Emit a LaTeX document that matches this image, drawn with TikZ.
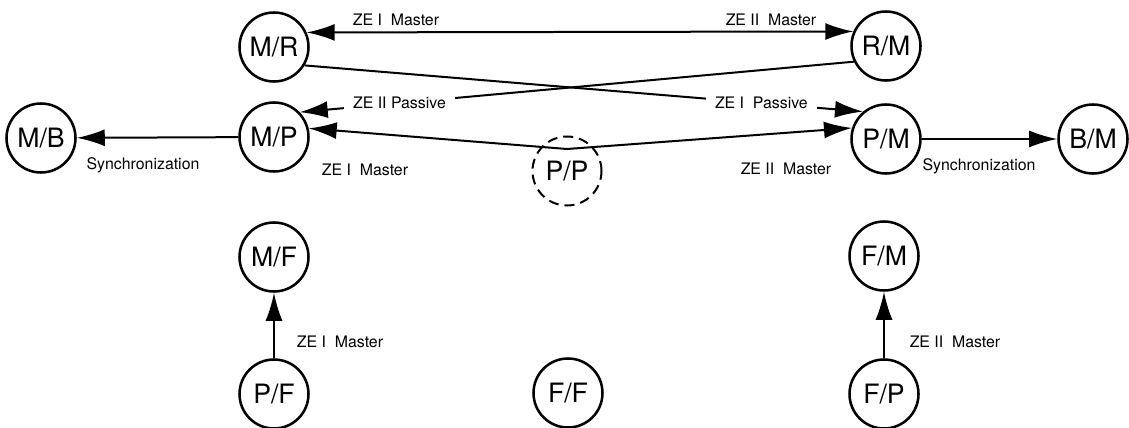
\documentclass[tikz,border=0pt]{standalone}
\usepackage{fontspec}
\setmainfont{TeX Gyre Heros}
\usetikzlibrary{arrows.meta, positioning}

\begin{document}
\begin{tikzpicture}[
        x=0.75pt, y=-0.75pt,
        state/.style={circle, draw, line width=1.9pt, minimum size=51.75pt, inner sep=0pt, font=\fontsize{20}{24}\selectfont},
        lbl/.style={inner sep=1pt, font=\fontsize{11.9}{14}\selectfont},
        >={Latex[length=21pt, width=12.75pt]},
        line width=1.5pt
    ]

    \tikzstyle{pass} = [lbl, fill=white, inner xsep=7pt]
    \useasboundingbox (0,0) rectangle (1129,428);

    % states
    \node[state] (MR) at (274,47) {M/R};
    \node[state] (RM) at (886,46) {R/M};
    \node[state] (MB) at (41,138) {M/B};
    \node[state] (MP) at (274,137) {M/P};
    \node[state] (PM) at (886,139) {P/M};
    \node[state] (BM) at (1093,139) {B/M};
    \node[state, line width=1.5pt, dash pattern=on 7.5pt off 4.5pt] (PP) at (567,171) {P/P};
    \node[state] (MF) at (274,257) {M/F};
    \node[state] (FM) at (884,256) {F/M};
    \node[state] (PF) at (274,394) {P/F};
    \node[state] (FF) at (568,393) {F/F};
    \node[state] (FP) at (884,394) {F/P};
    \coordinate (ppkink) at (567,149);

    % master links
    \draw[<->] (MR.24) -- (RM.156);
    \node[lbl] (zeItop) at (396,20) {ZE I\ \ Master};
    \node[lbl] (zeIItop) at (771,20) {ZE II\ \ Master};

    \draw[->] (ppkink) -- (MP.14);
    \draw[->] (ppkink) -- (PM.162);
    \node[lbl] (zeImid) at (365,170) {ZE I\ \ Master};
    \node[lbl] (zeIImid) at (786,169) {ZE II\ \ Master};

    % passive links
    \draw[->] (MR.-31) -- (PM.130) node[pass, pos=0.818] (pasI) {ZE I\ \ Passive};
    \draw[->] (RM.206) -- (MP.44) node[pass, pos=0.82] (pasII) {ZE II Passive};

    % synchronization
    \draw[->] (MP) -- (MB);
    \node[lbl] (syncL) at (143,165) {Synchronization};
    \draw[->] (PM) -- (BM);
    \node[lbl] (syncR) at (979,166) {Synchronization};

    % bottom row
    \draw[->] (PF) -- (MF);
    \node[lbl] (zeIbot) at (340,342) {ZE I\ \ Master};
    \draw[->] (FP) -- (FM);
    \node[lbl] (zeIIbot) at (955,342) {ZE II\ \ Master};

\end{tikzpicture}
\end{document}
